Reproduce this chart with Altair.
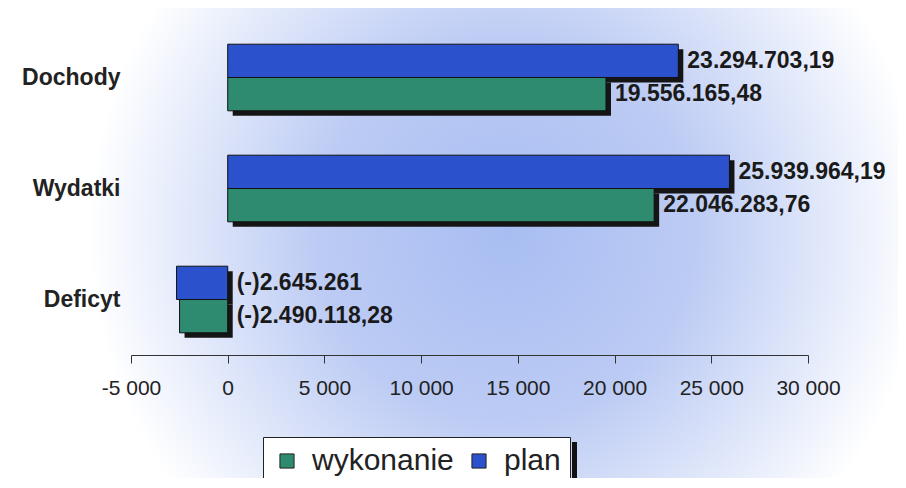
import altair as alt
import pandas as pd

categories = ["Dochody", "Wydatki", "Deficyt"]
series = ["plan", "wykonanie"]
plan_values = [23294.70319, 25939.96419, -2645.261]
wyk_values = [19556.16548, 22046.28376, -2490.11828]
plan_labels = ["23.294.703,19", "25.939.964,19", "(-)2.645.261"]
wyk_labels = ["19.556.165,48", "22.046.283,76", "(-)2.490.118,28"]

BAR = 0.3  # bar thickness in category units
rows = []
for i, c in enumerate(categories):
    for k, (s, v, lab) in enumerate([("plan", plan_values[i], plan_labels[i]),
                                      ("wykonanie", wyk_values[i], wyk_labels[i])]):
        top = i - BAR + k * BAR
        rows.append({"kategoria": c, "seria": s, "wartosc": v, "etykieta": lab,
                     "pos": max(v, 0), "y0": top, "y1": top + BAR,
                     "yc": top + BAR / 2})
df = pd.DataFrame(rows)

FONT = "Liberation Sans"
BLUE = "#2b52cc"
GREEN = "#2f8b6f"

xscale = alt.Scale(domain=[-5000, 30000], nice=False, zero=False)
yscale = alt.Scale(domain=[-0.5, len(categories) - 0.5], reverse=True, nice=False, zero=False)
cat_expr = "[" + ",".join("'%s'" % c for c in categories) + "][datum.value]"

yenc = alt.Y("y0:Q", scale=yscale, title=None,
             axis=alt.Axis(values=list(range(len(categories))), labelExpr=cat_expr,
                           labelFont=FONT, labelFontSize=23, labelFontWeight="bold",
                           labelColor="#222222", ticks=False, domain=False, grid=False,
                           labelPadding=11, zindex=2, labelFlush=False,
                           labelOverlap=False))

bg = alt.Chart(pd.DataFrame({"a": [0]})).mark_rect(
    fill=alt.RadialGradient(
        gradient="radial",
        stops=[alt.GradientStop(offset=0, color="#a8bdf2"),
               alt.GradientStop(offset=0.45, color="#bccbf4"),
               alt.GradientStop(offset=0.8, color="#e6ecfb"),
               alt.GradientStop(offset=1, color="#ffffff")],
        x1=0.56, y1=0.5, r1=0, x2=0.56, y2=0.5, r2=0.47)
).encode(x=alt.value(-123), x2=alt.value(767), y=alt.value(-200), y2=alt.value(620))

xenc = alt.X("wartosc:Q", scale=xscale, title=None,
             axis=alt.Axis(values=[-5000, 0, 5000, 10000, 15000, 20000, 25000, 30000],
                           labelExpr="datum.value < 0 ? '-' + replace(format(-datum.value, ','), ',', ' ') : replace(format(datum.value, ','), ',', ' ')",
                           labelFont=FONT, labelFontSize=21, labelColor="#222222",
                           tickSize=8, tickColor="#333333", domainColor="#333333",
                           labelPadding=14, grid=False, zindex=2, labelFlush=False,
                           labelOverlap=False))

shadow = alt.Chart(df).mark_bar(color="#151515", xOffset=5, x2Offset=5,
                                yOffset=5, y2Offset=5).encode(
    x=alt.X("wartosc:Q", scale=xscale), x2=alt.datum(0),
    y=alt.Y("y0:Q", scale=yscale), y2="y1:Q")

bars = alt.Chart(df).mark_bar(stroke="#111111", strokeWidth=1).encode(
    x=xenc, x2=alt.datum(0), y=yenc, y2="y1:Q",
    color=alt.Color("seria:N",
                    scale=alt.Scale(domain=["wykonanie", "plan"], range=[GREEN, BLUE]),
                    legend=alt.Legend(title=None, orient="none", direction="horizontal",
                                      legendX=132, legendY=415,
                                      fillColor="#ffffff", strokeColor="#222222",
                                      padding=9, labelFont=FONT, labelFontSize=30,
                                      labelColor="#222222", symbolType="square",
                                      symbolSize=200, symbolStrokeColor="#222222",
                                      symbolStrokeWidth=1, labelOffset=10,
                                      columnPadding=10)))

texts = alt.Chart(df).mark_text(align="left", baseline="middle", dx=9, font=FONT,
                                fontSize=23, fontWeight="bold", color="#1a1a1a").encode(
    x=alt.X("pos:Q", scale=xscale), y=alt.Y("yc:Q", scale=yscale), text="etykieta:N")

legend_shadow = alt.Chart(pd.DataFrame({"a": [0]})).mark_rect(color="#111111").encode(
    x=alt.value(441), x2=alt.value(446), y=alt.value(420), y2=alt.value(460))

chart = alt.layer(bg, legend_shadow, shadow, bars, texts).properties(
    width=677, height=333,
    autosize=alt.AutoSizeParams(type="none"),
    padding={"left": 123, "top": 14, "right": 90, "bottom": 123},
    background="#ffffff"
).configure_view(strokeWidth=0)

chart.save("out.html", embed_options={"renderer": "svg", "actions": False})
